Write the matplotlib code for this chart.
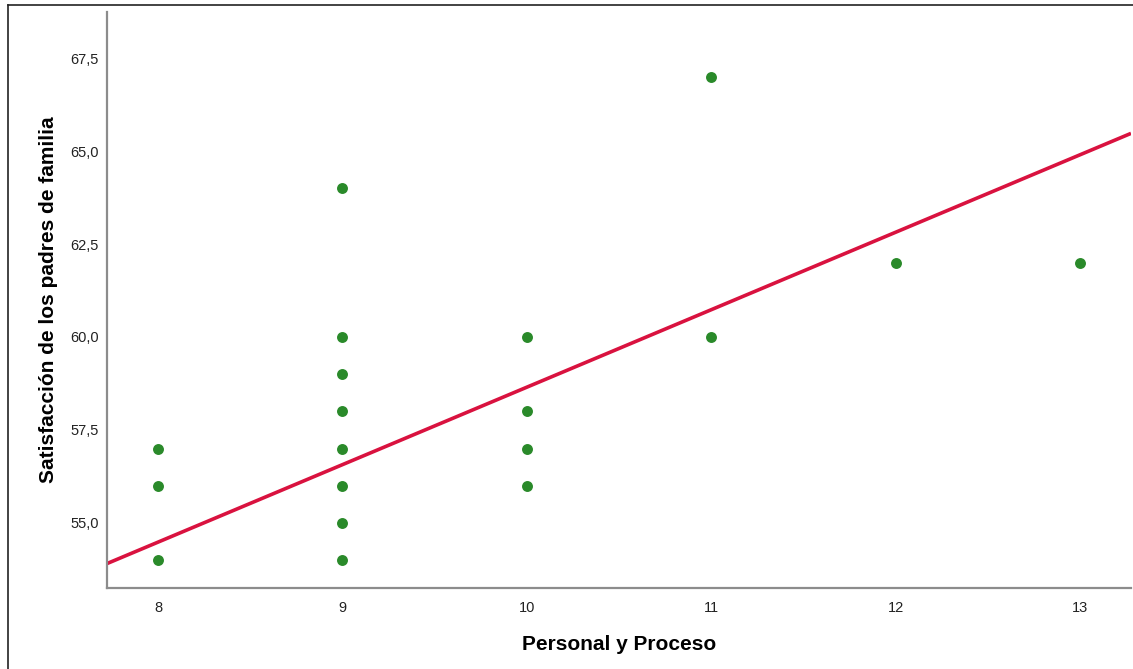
import matplotlib
matplotlib.use("Agg")
import matplotlib.pyplot as plt
from matplotlib.lines import Line2D
from matplotlib.ticker import FuncFormatter, FixedLocator

# Data
personal_proceso = [8, 8, 8,
                    9, 9, 9, 9, 9, 9, 9, 9,
                    10, 10, 10, 10,
                    11, 11,
                    12, 13]
satisfaccion = [57, 56, 54,
                64, 60, 59, 58, 57, 56, 55, 54,
                60, 58, 57, 56,
                67, 60,
                62, 62]
# fitted regression line
fit_intercept = 37.82
fit_slope = 2.083

x_ticks = [8, 9, 10, 11, 12, 13]
y_ticks = [55.0, 57.5, 60.0, 62.5, 65.0, 67.5]

plt.rcParams['font.family'] = ['Liberation Sans', 'DejaVu Sans']

fig = plt.figure(figsize=(11.33, 6.69), dpi=100)
ax = fig.add_axes([107/1133, 1 - 588/669, (1131 - 107)/1133, (588 - 12)/669])

ax.scatter(personal_proceso, satisfaccion, s=62, color='#2a8a2a', zorder=3, linewidths=0)

ax.set_xlim(7.723, 13.277)
ax.set_ylim(53.25, 68.74)

xl = ax.get_xlim()
ax.plot(xl, [fit_intercept + fit_slope * v for v in xl], color='#d9123f', lw=2.6,
        zorder=2, solid_capstyle='butt')

ax.xaxis.set_major_locator(FixedLocator(x_ticks))
ax.yaxis.set_major_locator(FixedLocator(y_ticks))
ax.yaxis.set_major_formatter(FuncFormatter(lambda v, p: f"{v:.1f}".replace('.', ',')))
ax.xaxis.set_major_formatter(FuncFormatter(lambda v, p: f"{int(v)}"))
ax.tick_params(axis='both', length=0, labelsize=10.5, colors='#222222')
ax.tick_params(axis='x', pad=9)
ax.tick_params(axis='y', pad=6)

for s in ['top', 'right']:
    ax.spines[s].set_visible(False)
for s in ['left', 'bottom']:
    ax.spines[s].set_color('#8c8c8c')
    ax.spines[s].set_linewidth(1.6)

ax.set_xlabel('Personal y Proceso', fontsize=15, fontweight='bold', labelpad=15)
ax.set_ylabel('Satisfacción de los padres de familia', fontsize=15, fontweight='bold', labelpad=9)

# outer frame (left and top edges visible)
fig.add_artist(Line2D([8/1133, 8/1133], [0, 1 - 5/669], transform=fig.transFigure, color='#222222', lw=1.2))
fig.add_artist(Line2D([8/1133, 1], [1 - 5/669, 1 - 5/669], transform=fig.transFigure, color='#222222', lw=1.2))

fig.savefig('out.png', dpi=100)
